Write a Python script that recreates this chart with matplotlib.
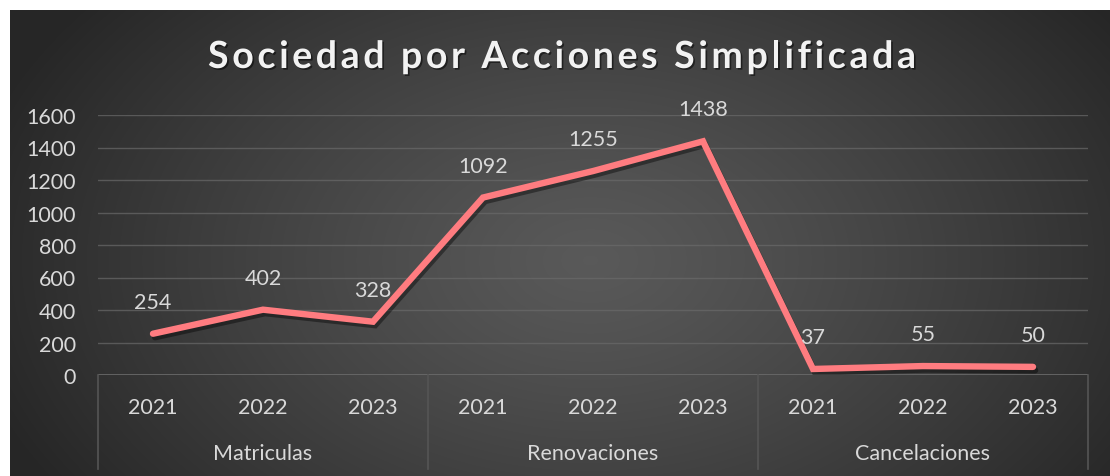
import matplotlib
matplotlib.use("Agg")
import matplotlib.pyplot as plt
import matplotlib.patheffects as pe
import numpy as np

groups = ["Matriculas", "Renovaciones", "Cancelaciones"]
years = ["2021", "2022", "2023"]
values = [254, 402, 328, 1092, 1255, 1438, 37, 55, 50]
y_ticks = [0, 200, 400, 600, 800, 1000, 1200, 1400, 1600]
title = "Sociedad por Acciones Simplificada"

W, H = 1110, 477
FONT = "Lato"
TXT = "#d9d9d9"
LINE = "#ff7c80"
FS = 15.5

fig = plt.figure(figsize=(W / 100, H / 100), dpi=100, facecolor="white")

# radial gradient background of the chart area
bg = fig.add_axes([10 / W, 0, (W - 10) / W, (H - 11) / H])
yy, xx = np.mgrid[0:466, 0:1100]
r = np.sqrt(((xx - 580) / 640) ** 2 + ((yy - 250) / 420) ** 2)
r = np.clip(r, 0, 1)
shade = 0.35 - (0.35 - 0.15) * r ** 1.2
bg.imshow(np.dstack([shade] * 3), aspect="auto", extent=(0, 1, 0, 1))
bg.axis("off")

ax = fig.add_axes([98 / W, (H - 376) / H, 990 / W, 260 / H])
ax.set_facecolor("none")
x = np.arange(len(values))
ax.plot(x, values, color=LINE, lw=4.6, solid_capstyle="round", solid_joinstyle="miter",
        path_effects=[pe.SimpleLineShadow(offset=(1.5, -2.5), shadow_color="black", alpha=0.4),
                      pe.Normal()], zorder=3)
for xi, v in zip(x, values):
    ax.annotate(str(v), (xi, v), xytext=(0, 23), textcoords="offset points",
                ha="center", va="center", color=TXT, fontsize=FS, family=FONT, zorder=4)

ax.set_xlim(-0.5, len(values) - 0.5)
ax.set_ylim(0, 1600)
ax.set_yticks(y_ticks)
ax.tick_params(axis="y", length=0, pad=16, labelcolor=TXT, labelsize=FS)
for lab in ax.get_yticklabels():
    lab.set_family(FONT)
ax.set_xticks([])
ax.grid(axis="y", color="#6a6a6a", lw=1, alpha=0.7)
for s in ax.spines.values():
    s.set_visible(False)
ax.axhline(0, color="#6a6a6a", lw=1.2, zorder=2)

# multi-level category axis
tr = ax.get_xaxis_transform()
for b in [-0.5, 2.5, 5.5, 8.5]:
    ax.plot([b, b], [0, -0.362], transform=tr, color="#555555", lw=1.2, clip_on=False)
for i, yr in enumerate(years * len(groups)):
    ax.text(i, -0.123, yr, transform=tr, ha="center", va="center",
            color=TXT, fontsize=FS, family=FONT)
for g, name in enumerate(groups):
    ax.text(g * 3 + 1, -0.30, name, transform=tr, ha="center", va="center",
            color=TXT, fontsize=FS, family=FONT)

# letter-spaced title
renderer = fig.canvas.get_renderer()
tprops = dict(fontsize=27, family=FONT, weight="bold", color="#f2f2f2")
probe = fig.text(0, 0, "x", **tprops)
prop = probe.get_fontproperties()
probe.remove()
def adv(ch):
    w_pair = renderer.get_text_width_height_descent("H" + ch + "H", prop, ismath=False)[0]
    w_hh = renderer.get_text_width_height_descent("HH", prop, ismath=False)[0]
    return w_pair - w_hh
widths = [adv(c) for c in title]
target = 708
extra = (target - sum(widths)) / (len(title) - 1)
cx = 562 - target / 2
for c, w in zip(title, widths):
    if c != " ":
        fig.text(cx / W, 1 - 58 / H, c, ha="left", va="center", **tprops,
                 path_effects=[pe.SimplePatchShadow(offset=(1.2, -1.2), shadow_rgbFace="black", alpha=0.5),
                               pe.Normal()])
    cx += w + extra

fig.savefig("out.png", dpi=100, facecolor="white")
